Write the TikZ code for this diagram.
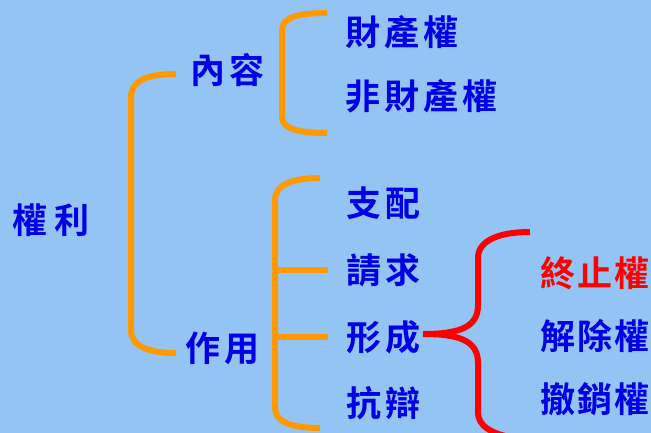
\documentclass[tikz,border=0pt]{standalone}
\usepackage{fontspec}
\newfontfamily\cjk{Noto Sans CJK TC}[BoldFont={* Bold}]
\definecolor{bgblue}{RGB}{148,196,244}
\definecolor{txtblue}{RGB}{0,0,230}
\definecolor{brorange}{RGB}{255,153,0}
\definecolor{brred}{RGB}{255,0,0}
\newcommand\ks{\hspace{4pt}}
\newcommand\kt{\hspace{2pt}}
\tikzset{
  lbl/.style={anchor=west, inner sep=0pt, text=txtblue, font=\cjk\bfseries\fontsize{35}{37}\selectfont},
  redlbl/.style={lbl, text=brred},
  obr/.style={draw=brorange, line width=6pt},
  rbr/.style={draw=brred, line width=6pt}
}
\begin{document}
\begin{tikzpicture}[x=1pt,y=-1pt]
\useasboundingbox (0,0) rectangle (651,433);
\fill[bgblue] (0,0) rectangle (651,433);
% labels
\node[lbl] (quanli) at (12,220) {權\hspace{7pt}利};
\node[lbl] (neirong) at (190,70) {內\ks 容};
\node[lbl] (zuoyong) at (185,348) {作\ks 用};
\node[lbl] (caichan) at (345,32) {財\ks 產\ks 權};
\node[lbl] (feicai) at (345,96) {非\ks 財\ks 產\ks 權};
\node[lbl] (zhipei) at (346,203) {支\ks 配};
\node[lbl] (qingqiu) at (346,270) {請\ks 求};
\node[lbl] (xingcheng) at (346,337) {形\ks 成};
\node[lbl] (kangbian) at (346,403) {抗\ks 辯};
\node[redlbl] (zhongzhi) at (540,273) {終\kt 止\kt 權};
\node[lbl] (jiechu) at (540,336) {解\kt 除\kt 權};
\node[lbl] (chexiao) at (540,399) {撤\kt 銷\kt 權};
% coordinates
\coordinate (b1t) at (176,74);
\coordinate (b1b) at (176,353);
\coordinate (b2t) at (327,13);
\coordinate (b2b) at (327,133);
\coordinate (b3t) at (320,178);
\coordinate (b3b) at (320,428);
\coordinate (t1) at (328,270);
\coordinate (t2) at (328,337);
\coordinate (rt) at (530,232);
\coordinate (rb) at (535,440);
\coordinate (rm) at (423,334);
% orange brackets
\draw[obr] (b1t) .. controls (148,74) and (131,80) .. (131,98) -- (131,330) .. controls (131,346) and (148,353) .. (b1b);
\draw[obr] (b2t) .. controls (299,13) and (282,17) .. (282,30) -- (282,117) .. controls (282,129) and (299,133) .. (b2b);
\draw[obr] (b3t) .. controls (292,178) and (275,185) .. (275,200) -- (275,408) .. controls (275,422) and (292,428) .. (b3b);
\draw[obr] (275,270) -- (t1);
\draw[obr] (275,337) -- (t2);
% red brace
\begin{scope}
\clip (0,0) rectangle (651,433);
\draw[rbr] (rm) .. controls (462,334) and (478,326) .. (478,305) -- (478,258) .. controls (478,240) and (500,232) .. (rt);
\draw[rbr] (rm) .. controls (462,334) and (478,342) .. (478,363) -- (478,412) .. controls (478,430) and (500,438) .. (rb);
\end{scope}
\end{tikzpicture}
\end{document}
